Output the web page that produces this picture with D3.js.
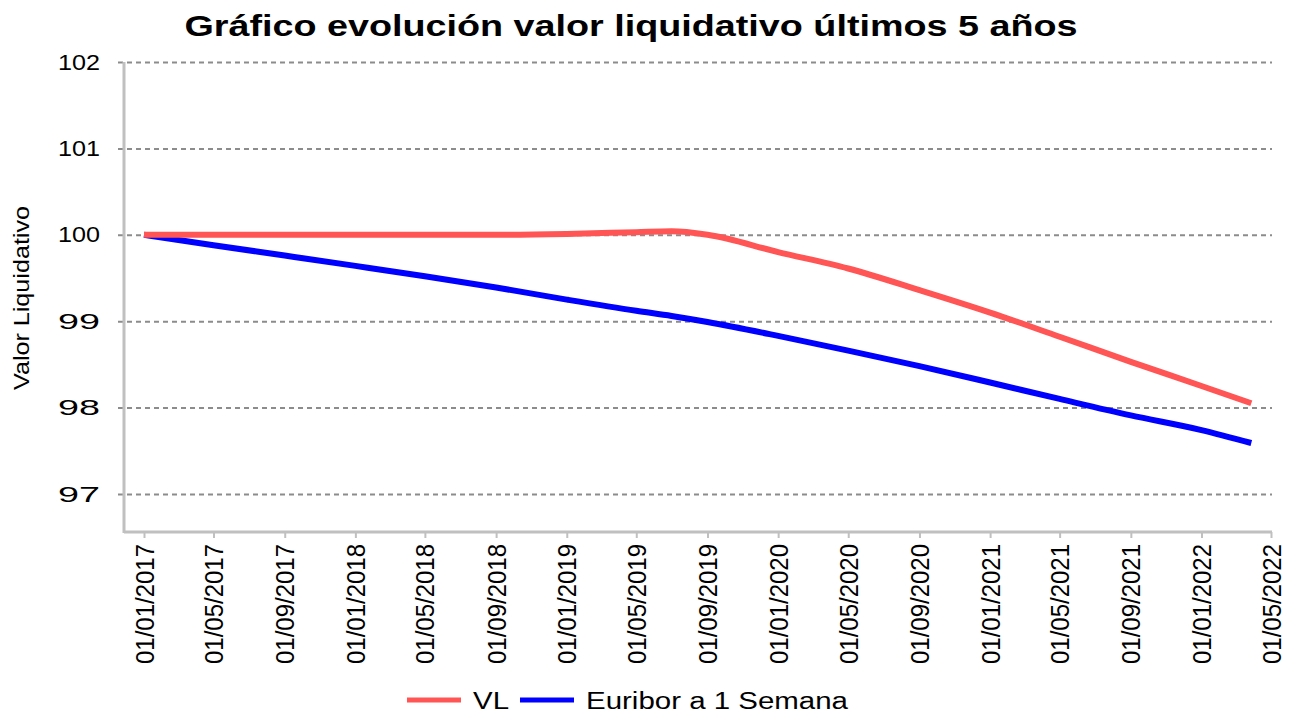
<!DOCTYPE html>
<html>
<head>
<meta charset="utf-8">
<script src="https://cdn.jsdelivr.net/npm/d3@7"></script>
<style>
  body { margin: 0; background: #fff; }
  svg { display: block; font-family: "Liberation Sans", Arial, sans-serif; }
</style>
</head>
<body>
<div class="chart-container"></div>
<script>
// Data
var dates = ["2017-01-01", "2017-05-01", "2017-09-01", "2018-01-01", "2018-05-01", "2018-09-01",
             "2019-01-01", "2019-05-01", "2019-07-01", "2019-09-01", "2020-01-01", "2020-05-01",
             "2020-09-01", "2021-01-01", "2021-05-01", "2021-09-01", "2022-01-01", "2022-03-28"];
var vlValues = [100.00, 100.00, 100.00, 100.00, 100.00, 100.00,
                100.01, 100.03, 100.04, 100.00, 99.80, 99.61,
                99.36, 99.10, 98.82, 98.53, 98.25, 98.05];
var euriborValues = [100.00, 99.88, 99.76, 99.64, 99.52, 99.39,
                     99.25, 99.12, 99.06, 98.99, 98.83, 98.66,
                     98.48, 98.29, 98.10, 97.91, 97.74, 97.59];
var xTickLabels = ["01/01/2017", "01/05/2017", "01/09/2017", "01/01/2018", "01/05/2018", "01/09/2018",
                   "01/01/2019", "01/05/2019", "01/09/2019", "01/01/2020", "01/05/2020", "01/09/2020",
                   "01/01/2021", "01/05/2021", "01/09/2021", "01/01/2022", "01/05/2022"];
var yTicks = [97, 98, 99, 100, 101, 102];
var seriesNames = ["VL", "Euribor a 1 Semana"];
var seriesColors = ["#ff5555", "#0000ff"];

var W = 1289, H = 715;
var plotLeft = 124, plotRight = 1272, plotTop = 62, plotBottom = 532;

var parseIso = d3.timeParse("%Y-%m-%d");
var parseLabel = d3.timeParse("%d/%m/%Y");
var fmt = d3.timeFormat("%d/%m/%Y");

var tickDates = xTickLabels.map(parseLabel);

var x = d3.scaleTime()
    .domain([tickDates[0], tickDates[tickDates.length - 1]])
    .range([144, 1271]);
var y = d3.scaleLinear()
    .domain([96.56, 102])
    .range([plotBottom, plotTop]);

var series = seriesNames.map(function(name, i) {
    var vals = i === 0 ? vlValues : euriborValues;
    return {
        name: name,
        color: seriesColors[i],
        values: dates.map(function(d, j) { return { date: parseIso(d), value: vals[j] }; })
    };
});

var svg = d3.select('.chart-container').append("svg")
    .attr("width", W)
    .attr("height", H);

// Title
svg.append("text")
    .attr("x", 631)
    .attr("y", 36)
    .attr("text-anchor", "middle")
    .attr("font-size", 30)
    .attr("font-weight", "bold")
    .attr("textLength", 893)
    .attr("lengthAdjust", "spacingAndGlyphs")
    .text("Gráfico evolución valor liquidativo últimos 5 años");

// Grid lines
svg.append("g")
    .attr("class", "grid")
    .attr("transform", "translate(118,0)")
    .call(d3.axisLeft(y).tickValues(yTicks).tickSize(-(plotRight - 118)).tickFormat(""))
    .call(function(g) { g.select(".domain").remove(); })
    .selectAll("line")
    .attr("stroke", "#8c8c8c")
    .attr("stroke-width", 2)
    .attr("stroke-dasharray", "5,4");

// Y axis labels
svg.append("g")
    .attr("class", "y-axis")
    .attr("transform", "translate(" + plotLeft + ",0)")
    .call(d3.axisLeft(y).tickValues(yTicks).tickSize(0).tickPadding(24).tickFormat(d3.format("d")))
    .call(function(g) { g.select(".domain").remove(); })
    .selectAll("text")
    .attr("font-size", 22)
    .attr("fill", "#000")
    .attr("font-family", "Liberation Sans, Arial, sans-serif")
    .attr("textLength", 42)
    .attr("lengthAdjust", "spacingAndGlyphs");

// X axis
var xAxis = svg.append("g")
    .attr("class", "x-axis")
    .attr("transform", "translate(0," + plotBottom + ")")
    .call(d3.axisBottom(x).tickValues(tickDates).tickSize(6).tickFormat(fmt));
xAxis.select(".domain").remove();
xAxis.selectAll("line").attr("stroke", "#c0c0c0").attr("stroke-width", 2);
xAxis.selectAll("text")
    .attr("font-size", 20)
    .attr("fill", "#000")
    .attr("font-family", "Liberation Sans, Arial, sans-serif")
    .attr("transform", "rotate(-90) scale(1,1.3)")
    .attr("y", 0)
    .attr("x", -12)
    .attr("dy", ".35em")
    .attr("textLength", 120)
    .attr("lengthAdjust", "spacingAndGlyphs")
    .style("text-anchor", "end");

// Axis frame lines
svg.append("line")
    .attr("x1", plotLeft).attr("x2", plotRight)
    .attr("y1", plotBottom).attr("y2", plotBottom)
    .attr("stroke", "#c0c0c0").attr("stroke-width", 3);
svg.append("line")
    .attr("x1", plotLeft).attr("x2", plotLeft)
    .attr("y1", plotTop).attr("y2", plotBottom + 1)
    .attr("stroke", "#c0c0c0").attr("stroke-width", 3);

// Y axis title
svg.append("text")
    .attr("transform", "translate(21,298) rotate(-90) scale(1,1.2)")
    .attr("text-anchor", "middle")
    .attr("dy", ".35em")
    .attr("font-size", 18)
    .attr("textLength", 184)
    .attr("lengthAdjust", "spacingAndGlyphs")
    .text("Valor Liquidativo");

// Lines
var line = d3.line()
    .x(function(d) { return x(d.date); })
    .y(function(d) { return y(d.value); })
    .curve(d3.curveMonotoneX);

svg.selectAll(".series")
    .data(series.slice().reverse())
    .enter().append("path")
    .attr("class", "series")
    .attr("fill", "none")
    .attr("stroke", function(d) { return d.color; })
    .attr("stroke-width", 6)
    .attr("d", function(d) { return line(d.values); });

// Legend
var legendItems = [
    { name: seriesNames[0], color: seriesColors[0], x: 407, textLen: 36 },
    { name: seriesNames[1], color: seriesColors[1], x: 520, textLen: 262 }
];
var legend = svg.append("g").attr("class", "legend");
legendItems.forEach(function(d) {
    legend.append("line")
        .attr("x1", d.x).attr("x2", d.x + 54)
        .attr("y1", 700).attr("y2", 700)
        .attr("stroke", d.color)
        .attr("stroke-width", 5);
    legend.append("text")
        .attr("x", d.x + 66)
        .attr("y", 709)
        .attr("font-size", 23)
        .attr("textLength", d.textLen)
        .attr("lengthAdjust", "spacingAndGlyphs")
        .text(d.name);
});
</script>
</body>
</html>
